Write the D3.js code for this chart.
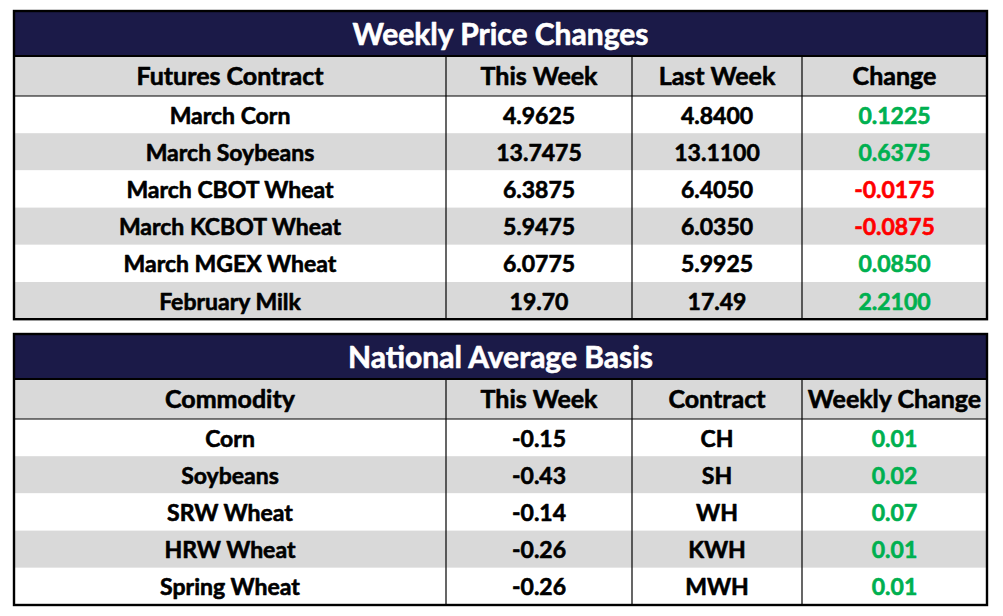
<!DOCTYPE html>
<html>
<head>
<meta charset="utf-8">
<script src="https://cdn.jsdelivr.net/npm/d3@7"></script>
<style>
  html, body { margin: 0; padding: 0; background: #fff; }
  text { font-family: Lato, "Open Sans", sans-serif; font-weight: bold; stroke-width: 0.6px; stroke-linejoin: round; }
</style>
</head>
<body>
<div id="chart"></div>
<script>
// ---------- data ----------
var priceTitle = 'Weekly Price Changes';
var priceHeaders = ['Futures Contract', 'This Week', 'Last Week', 'Change'];
var priceContracts = ['March Corn', 'March Soybeans', 'March CBOT Wheat', 'March KCBOT Wheat', 'March MGEX Wheat', 'February Milk'];
var priceThisWeek = [4.9625, 13.7475, 6.3875, 5.9475, 6.0775, 19.70];
var priceLastWeek = [4.8400, 13.1100, 6.4050, 6.0350, 5.9925, 17.49];
var priceChange = [0.1225, 0.6375, -0.0175, -0.0875, 0.0850, 2.2100];
var priceDecimals = [4, 4, 4, 4, 4, 2];

var basisTitle = 'National Average Basis';
var basisHeaders = ['Commodity', 'This Week', 'Contract', 'Weekly Change'];
var basisCommodities = ['Corn', 'Soybeans', 'SRW Wheat', 'HRW Wheat', 'Spring Wheat'];
var basisThisWeek = [-0.15, -0.43, -0.14, -0.26, -0.26];
var basisContracts = ['CH', 'SH', 'WH', 'KWH', 'MWH'];
var basisChange = [0.01, 0.02, 0.07, 0.01, 0.01];

// ---------- layout ----------
var W = 1003, H = 616;
var navy = '#1b1a48', gray = '#d9d9d9', green = '#00b050', red = '#ff0000';
var colEdges = [14, 446, 632, 802, 987];
var rowH = 37.2;

var svg = d3.select('#chart').append('svg')
  .attr('width', W)
  .attr('height', H);

svg.append('rect').attr('width', W).attr('height', H).style('fill', '#fff');

var fmt = function(d, n){ return d3.format('.' + n + 'f')(d).replace('−', '-'); };

function drawTable(top, title, headers, rows){
  var titleH = 45, headH = 40;
  var headY = top + titleH;
  var bodyY = headY + headH;
  var y = d3.scaleBand()
    .domain(d3.range(rows.length))
    .range([bodyY, bodyY + rows.length * rowH]);
  var bottom = bodyY + rows.length * rowH;
  var x = d3.scaleOrdinal().domain(d3.range(headers.length)).range(colEdges.slice(0, -1));
  var cw = function(i){ return colEdges[i + 1] - colEdges[i]; };
  var g = svg.append('g');
  var left = colEdges[0], right = colEdges[colEdges.length - 1];

  // title band
  g.append('rect')
    .attr('x', left).attr('y', top)
    .attr('width', right - left).attr('height', titleH)
    .style('fill', navy);
  g.append('text')
    .attr('x', (left + right) / 2)
    .attr('y', top + titleH / 2 + 11)
    .attr('text-anchor', 'middle')
    .attr('font-size', 30)
    .style('fill', '#fff')
    .style('stroke', '#fff')
    .text(title);

  // header row
  g.append('rect')
    .attr('x', left).attr('y', headY)
    .attr('width', right - left).attr('height', headH)
    .style('fill', gray);
  g.selectAll('.hd').data(headers).enter().append('text')
    .attr('x', function(d, i){ return x(i) + cw(i) / 2; })
    .attr('y', headY + headH / 2 + 9)
    .attr('text-anchor', 'middle')
    .attr('font-size', 25)
    .style('fill', '#000')
    .style('stroke', '#000')
    .text(function(d){ return d; });

  // body rows
  var row = g.selectAll('.row').data(rows).enter().append('g');
  row.append('rect')
    .attr('x', left)
    .attr('y', function(d, i){ return y(i); })
    .attr('width', right - left)
    .attr('height', y.bandwidth())
    .style('fill', function(d, i){ return i % 2 ? gray : '#fff'; });
  row.selectAll('text').data(function(d, i){ return d.map(function(c){ return {c: c, r: i}; }); })
    .enter().append('text')
    .attr('x', function(d, i){ return x(i) + cw(i) / 2; })
    .attr('y', function(d){ return y(d.r) + y.bandwidth() / 2 + 9; })
    .attr('text-anchor', 'middle')
    .attr('font-size', 23)
    .style('fill', function(d){ return d.c.color || '#000'; })
    .style('stroke', function(d){ return d.c.color || '#000'; })
    .text(function(d){ return d.c.text; });

  // lines
  g.selectAll('.col').data(colEdges.slice(1, -1)).enter().append('line')
    .attr('x1', function(d){ return d; }).attr('x2', function(d){ return d; })
    .attr('y1', headY).attr('y2', bottom)
    .style('stroke', '#000').style('stroke-width', 1.2);
  g.append('line')
    .attr('x1', left).attr('x2', right)
    .attr('y1', bodyY).attr('y2', bodyY)
    .style('stroke', '#000').style('stroke-width', 1.2);
  g.append('line')
    .attr('x1', left).attr('x2', right)
    .attr('y1', headY).attr('y2', headY)
    .style('stroke', '#000').style('stroke-width', 2);
  g.append('rect')
    .attr('x', left).attr('y', top)
    .attr('width', right - left).attr('height', bottom - top)
    .style('fill', 'none').style('stroke', '#000').style('stroke-width', 2.4);
}

var changeCell = function(v, n){
  return {text: fmt(v, n), color: v < 0 ? red : green};
};

var priceRows = priceContracts.map(function(c, i){
  return [
    {text: c},
    {text: fmt(priceThisWeek[i], priceDecimals[i])},
    {text: fmt(priceLastWeek[i], priceDecimals[i])},
    changeCell(priceChange[i], 4)
  ];
});

var basisRows = basisCommodities.map(function(c, i){
  return [
    {text: c},
    {text: fmt(basisThisWeek[i], 2)},
    {text: basisContracts[i]},
    changeCell(basisChange[i], 2)
  ];
});

drawTable(11, priceTitle, priceHeaders, priceRows);
drawTable(334, basisTitle, basisHeaders, basisRows);
</script>
</body>
</html>
